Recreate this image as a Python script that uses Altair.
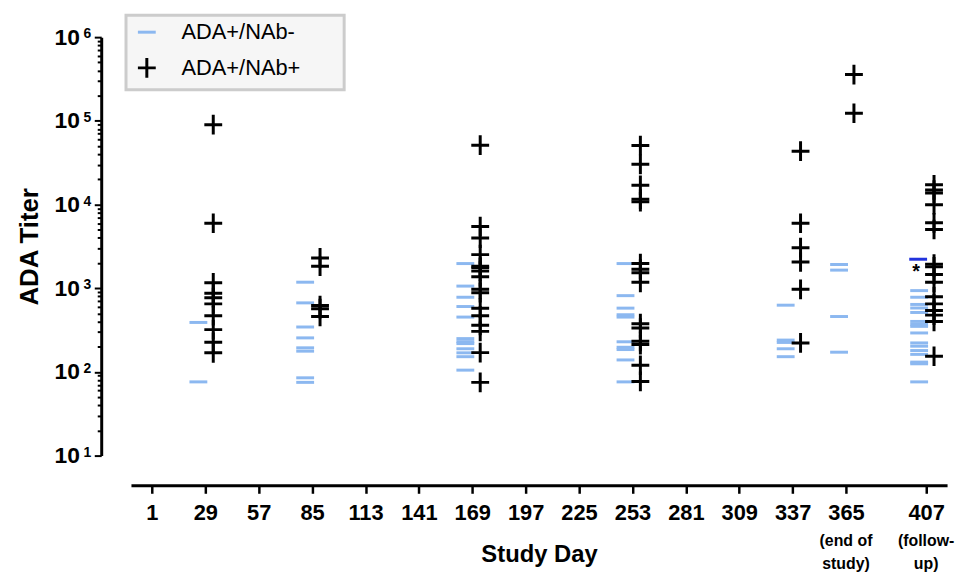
import altair as alt
import pandas as pd

NEG = "ADA+/NAb-"
POS = "ADA+/NAb+"

# ADA+/NAb- titers by study day
neg_d29 = [390, 76]
neg_d85 = [1180, 668, 344, 255, 194, 177, 85, 75]
neg_d169 = [1970, 1060, 780, 604, 452, 250, 230, 218, 189, 169, 152, 105]
neg_d253 = [1970, 815, 578, 482, 452, 229, 197, 185, 139, 76]
neg_d337 = [627, 240, 225, 189, 152]
neg_d365 = [1920, 1645, 459, 172]
neg_d407 = [936, 780, 640, 580, 513, 401, 370, 350, 292, 222, 203, 180, 162, 131, 125, 76]

# ADA+/NAb+ titers by study day
pos_d29 = [90000, 5970, 1160, 870, 771, 650, 469, 320, 226, 169]
pos_d85 = [2300, 1830, 620, 570, 459]
pos_d169 = [51200, 5460, 3970, 2520, 1830, 1750, 1600, 1370, 970, 885, 578, 469, 360, 305, 170, 75]
pos_d253 = [50700, 30200, 17000, 11600, 10800, 1970, 1690, 1530, 1175, 377, 335, 232, 212, 120, 77]
pos_d337 = [43400, 5970, 3050, 2060, 970, 222]
pos_d365 = [357000, 123000]
pos_d407 = [17200, 14900, 13700, 9950, 6040, 5030, 1940, 1800, 1460, 1175, 793, 650, 541, 477, 401, 154]

# flagged value (asterisk)
special_day = [407]
special_titer = [2220]

# annotations under axis
note_day = [365, 407]
note_text = ["(end of\nstudy)", "(follow-\nup)"]

# axis ticks / labels
x_ticks = list(range(1, 380, 14)) + [407]
y_ticks = [m * 10 ** e for e in range(1, 6) for m in range(1, 10)] + [10 ** 6]
decades = [10, 100, 1000, 10000, 100000, 1000000]
exponents = ["1", "2", "3", "4", "5", "6"]

neg_sets = {29: neg_d29, 85: neg_d85, 169: neg_d169, 253: neg_d253, 337: neg_d337, 365: neg_d365, 407: neg_d407}
pos_sets = {29: pos_d29, 85: pos_d85, 169: pos_d169, 253: pos_d253, 337: pos_d337, 365: pos_d365, 407: pos_d407}

rows = []
for d, vals in neg_sets.items():
    for v in vals:
        rows.append({"day": d, "titer": v, "group": NEG})
for d, vals in pos_sets.items():
    for v in vals:
        rows.append({"day": d, "titer": v, "group": POS})
df = pd.DataFrame(rows)
special_df = pd.DataFrame({"day": special_day, "titer": special_titer})
note_df = pd.DataFrame({"day": note_day, "text": note_text})
exp_df = pd.DataFrame({"titer": decades, "exp": exponents})

FONT = "Liberation Sans"
DASH = "M-1,0H1"
PLUS = "M-1,0H1M0,-1.1V1.1"

color_scale = alt.Scale(domain=[NEG, POS], range=["#8cb8f0", "#000000"])
shape_scale = alt.Scale(domain=[NEG, POS], range=[DASH, PLUS])

legend = alt.Legend(
    title=None, orient="none", legendX=-5, legendY=-22,
    labelFont=FONT, labelFontSize=22, labelColor="#000000", labelLimit=400,
    symbolStrokeWidth=3, symbolSize=324, symbolOffset=4, labelOffset=24,
    rowPadding=9, padding=6,
    labelExpr="datum.label + '\u2003\u2800'",
)

x_axis = alt.Axis(
    values=x_ticks, format="d",
    labelExpr="((datum.value - 1) % 28 == 0) || datum.value == 407 ? datum.label : ''",
    offset=30, grid=False, domainColor="#000000", domainWidth=3,
    tickColor="#000000", tickWidth=2.5, tickSize=8,
    labelFont=FONT, labelFontSize=22, labelFontWeight="bold", labelColor="#000000",
    labelPadding=9, labelOverlap=False, labelFlush=False,
    title="Study Day", titleFont=FONT, titleFontSize=24, titleFontWeight="bold",
    titleColor="#000000", titlePadding=20,
)

y_axis = alt.Axis(
    values=y_ticks, grid=False, offset=30,
    domainColor="#000000", domainWidth=3,
    tickColor="#000000", tickWidth=2,
    tickSize={"condition": {"test": "indexof([10,100,1000,10000,100000,1000000], datum.value) >= 0", "value": 7}, "value": 4},
    labelExpr="indexof([10,100,1000,10000,100000,1000000], datum.value) >= 0 ? '10' : ''",
    labelFont=FONT, labelFontSize=23, labelFontWeight="bold", labelColor="#000000",
    labelPadding=15, labelOverlap=False, labelFlush=False,
    title="ADA Titer", titleFont=FONT, titleFontSize=26, titleFontWeight="bold",
    titleColor="#000000", titlePadding=12,
)

x_enc = alt.X("day:Q", scale=alt.Scale(domain=[-10, 418], nice=False, zero=False), axis=x_axis)
y_enc = alt.Y("titer:Q", scale=alt.Scale(type="log", domain=[10, 1000000], nice=False), axis=y_axis)

base = alt.Chart(df)

neg_layer = base.transform_filter(alt.datum.group == NEG).mark_point(
    filled=False, strokeWidth=3, size=324, opacity=1
).encode(
    x=x_enc, y=y_enc,
    color=alt.Color("group:N", scale=color_scale, legend=legend),
    shape=alt.Shape("group:N", scale=shape_scale, legend=legend),
    xOffset=alt.value(-7),
)

pos_layer = base.transform_filter(alt.datum.group == POS).mark_point(
    filled=False, strokeWidth=3, size=324, opacity=1
).encode(
    x="day:Q", y="titer:Q",
    color=alt.Color("group:N", scale=color_scale, legend=legend),
    shape=alt.Shape("group:N", scale=shape_scale, legend=legend),
    xOffset=alt.value(8),
)

special_layer = alt.Chart(special_df).mark_point(
    filled=False, strokeWidth=3, size=324, opacity=1, shape=DASH, color="#2233dd"
).encode(x="day:Q", y="titer:Q", xOffset=alt.value(-8))

star_layer = alt.Chart(special_df).mark_text(
    text="*", fontSize=20, fontWeight="bold", font=FONT, color="#000000",
    dx=-10, dy=13, baseline="middle"
).encode(x="day:Q", y="titer:Q")

exp_layer = alt.Chart(exp_df).mark_text(
    font=FONT, fontSize=14, fontWeight="bold", color="#000000",
    baseline="alphabetic", align="center", dy=1
).encode(x=alt.value(-44), y="titer:Q", text="exp:N")

note_layer = alt.Chart(note_df).mark_text(
    font=FONT, fontSize=16, fontWeight="bold", color="#000000",
    lineBreak="\n", lineHeight=23, baseline="top", align="center"
).encode(x="day:Q", y=alt.value(500), text="text:N")

chart = alt.layer(neg_layer, pos_layer, special_layer, star_layer, exp_layer, note_layer).properties(
    width=823, height=422,
    autosize=alt.AutoSizeParams(type="none"),
    padding={"left": 124, "top": 27, "right": 8, "bottom": 115},
).configure_view(stroke=None).configure_legend(
    strokeColor="#cccccc", fillColor="#f6f6f6", strokeWidth=3
)

chart.save("out.html", embed_options={"renderer": "svg", "actions": False})
